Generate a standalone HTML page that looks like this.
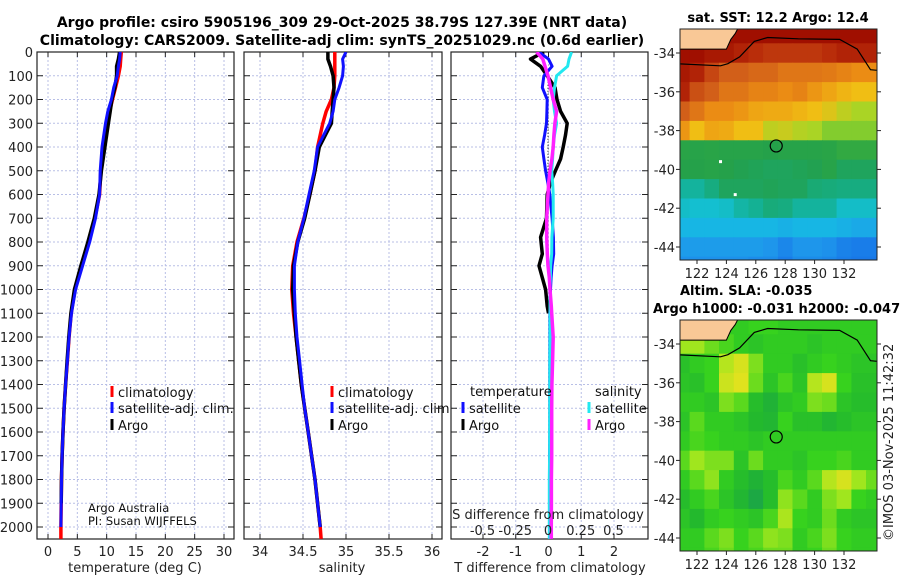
<!DOCTYPE html>
<html><head><meta charset="utf-8">
<style>
html,body{margin:0;padding:0;background:#fff;}
svg{display:block;font-family:"DejaVu Sans","Liberation Sans",sans-serif;}
.tk{font-size:13px;fill:#222;}
.ttl{font-size:14px;font-weight:bold;fill:#000;}
.mttl{font-size:13px;font-weight:bold;fill:#000;}
</style></head>
<body>
<svg id="fig" width="900" height="580" viewBox="0 0 900 580" xmlns="http://www.w3.org/2000/svg">
<text class="ttl" x="342" y="27" text-anchor="middle">Argo profile: csiro 5905196_309 29-Oct-2025 38.79S 127.39E (NRT data)</text>
<text class="ttl" x="342" y="45" text-anchor="middle">Climatology: CARS2009. Satellite-adj clim: synTS_20251029.nc (0.6d earlier)</text>
<g id="g"></g>
</svg>
<script>
// ---- profile data ----
const depthT = [0,30,60,100,150,200,250,300,400,500,600,700,800,900,1000,1100,1200,1300,1400,1500,1600,1700,1800,1900,2000,2050];
const tempArgo = [12.2,12.0,11.7,11.7,11.4,10.9,10.6,10.3,9.7,9.1,8.7,7.9,6.8,5.6,4.5,3.9,3.55,3.25,3.0,2.75,2.55,2.4,2.3,2.25,2.2,2.2];
const tempClim = [12.5,12.4,12.3,12.0,11.5,11.0,10.5,10.0,9.4,9.0,8.8,8.0,6.9,5.7,4.6,3.95,3.6,3.3,3.0,2.75,2.55,2.4,2.3,2.25,2.2,2.2];
const tempSat  = [12.3,12.2,12.0,11.8,11.2,10.8,10.2,9.8,9.2,8.9,8.8,8.1,7.1,5.9,4.7,4.0,3.6,3.3,3.0,2.75,2.55,2.4,2.3,2.25,2.2,2.2];
const salArgo = [34.79,34.79,34.82,34.85,34.86,34.85,34.84,34.83,34.69,34.64,34.58,34.52,34.44,34.39,34.38,34.4,34.42,34.45,34.48,34.52,34.56,34.6,34.64,34.67,34.70,34.71];
const salClim = [34.87,34.87,34.87,34.87,34.86,34.83,34.77,34.73,34.67,34.64,34.58,34.51,34.43,34.38,34.37,34.39,34.42,34.45,34.48,34.52,34.56,34.6,34.64,34.67,34.70,34.71];
const salSat  = [35.0,34.96,34.97,34.96,34.92,34.87,34.85,34.81,34.67,34.63,34.57,34.51,34.44,34.40,34.40,34.41,34.43,34.46,34.49,34.52,34.56,34.6,34.64,34.67,34.70,34.71];
// differences
const depthD = [0,30,60,100,150,200,250,300,350,400,450,500,550,600,700,780,850,900,950,1000,1070,1100,1200,1300,1400,1500,1600,1700,1800,1900,2000,2050];
const dTArgo = [-0.14,-0.55,-0.24,-0.04,0.2,0.26,0.37,0.57,0.52,0.45,0.37,0.21,0.06,-0.04,-0.06,-0.24,-0.19,-0.29,-0.19,-0.09,-0.04,0];
const dTSat  = [-0.29,0.0,0.11,-0.14,-0.19,-0.04,-0.05,-0.06,-0.12,-0.19,-0.14,-0.09,-0.02,0.04,0.11,0.15,0.16,0.11,0.08,0.06,0.05,0.04,0.04,0.04,0.04,0.04,0.04,0.03,0.03,0.03,0.03,0.03];
const dSSat  = [0.18,0.16,0.15,0.066,0.05,0.04,0.05,0.066,0.05,0.04,0.035,0.028,0.035,0.04,0.04,0.03,0.028,0.02,0.018,0.015,0.015,0.015,0.015,0.014,0.014,0.013,0.012,0.012,0.01,0.01,0.01,0.01];
const dSArgo = [-0.087,-0.04,-0.023,0.0,0.02,0.04,0.066,0.053,0.045,0.04,0.03,0.015,0.005,0.0,-0.01,-0.01,-0.005,0.0,0.01,0.015,0.025,0.028,0.04,0.035,0.03,0.028,0.028,0.028,0.026,0.026,0.025,0.025];
const depthTicks = [0,100,200,300,400,500,600,700,800,900,1000,1100,1200,1300,1400,1500,1600,1700,1800,1900,2000];
const tTicks = [0,5,10,15,20,25,30];
const sTicks = [34,34.5,35,35.5,36];
const sTickLabels = ["34","34.5","35","35.5","36"];
const dTTicks = [-2,-1,0,1,2];
const dSTicks = [-0.5,-0.25,0,0.25,0.5];
const dSTickLabels = ["-0.5","-0.25","0","0.25","0.5"];
// ---- map data ----
const mapLats = [-33,-34,-35,-36,-37,-38,-39,-40,-41,-42,-43,-44,-45];
const mapLons = [120,121,122,123,124,125,126,127,128,129,130,131,132,133,134,135];
const sstGrid = [
[19.5,19.5,19.5,19.5,19.5,19.5,19.5,19.5,19.5,19.5,19.5,19.5,19.5,19.5,19.5,19.5],
[19.5,19.5,19.5,19,19,18.5,18,17.8,17.8,17.8,17.8,18,18.5,18.5,18.5,18.5],
[19,19,18.5,17.5,17,17,16.8,16.8,16.5,16.5,16.5,16.4,16.2,16,16,16],
[18.5,18.5,17.3,17,16.5,16.5,16.2,16.2,16,16.2,15.8,15.5,15.2,15,15,15],
[17,17,16.5,16,16,15.8,15.5,15.4,15.4,15.2,15,14.8,14.5,14.3,14.3,14.3],
[15.8,15.8,15,15.5,15.4,15,15,14.5,14.6,14.4,14.3,14,14,14,14,14],
[12.6,12.6,12.5,12.6,12.5,12.5,12.5,12.4,12.5,12.5,12.5,12.6,13,13,13,13],
[12.4,12.4,12.4,12.5,12.4,12.2,12.1,12,12,12.1,12.2,12.5,12,12,12,12],
[11,11,11,11.4,12,12,12,12.1,12,12,11.6,11.5,11.4,11.4,11.4,11.4],
[10.5,10.5,10.4,10.4,10.5,10.9,11.1,11.5,11.4,11,11,11,10.5,10.5,10.5,10.5],
[10,10,10,10,10,10,10,10,9.9,10,10,10,9.9,9.8,9.8,9.8],
[9.6,9.6,9.6,9.6,9.6,9.6,9.6,9.5,9.2,9.5,9.5,9.4,9.1,9,9,9],
[9.4,9.4,9.4,9.4,9.4,9.4,9.3,9.3,9,9.3,9.3,9.2,9,8.9,8.9,8.9]];
const slaGrid = [
[0,0,0,0,0,0,0.02,0.02,0,0,0,0,0,0,0,0],
[0.08,0.08,0.08,0.05,0.03,0,-0.02,0,0,0,-0.02,0,0,0,0,0],
[-0.03,-0.03,0,0.02,0.1,0.13,0.06,0,0,-0.03,0,0.02,0,-0.02,-0.02,-0.02],
[-0.02,-0.02,-0.03,0.02,0.12,0.14,0.05,-0.02,0.03,-0.02,0.1,0.13,0.02,-0.03,-0.03,-0.03],
[0,0,0,-0.02,0.06,0.04,-0.04,-0.07,-0.02,0,0.06,0.05,-0.02,-0.04,-0.04,-0.04],
[-0.02,-0.02,0.04,0,0,-0.02,-0.05,-0.06,0.02,-0.03,-0.03,-0.06,-0.04,-0.02,-0.02,-0.02],
[0,0,0.03,0.02,0,0,-0.02,0,0,0,0,0,0,0,0,0],
[0.04,0.04,0.08,0.06,0.06,-0.02,0.05,0,0,-0.02,0.02,0.02,0.03,0,0,0],
[0,0,0.04,0.07,0,-0.04,-0.07,-0.04,0.03,0,0.04,0.1,0.13,0.08,0.05,0.05],
[-0.04,-0.04,0,0.03,-0.02,-0.06,-0.1,-0.04,0.07,0.04,0,0.06,0.08,0.02,0,0],
[-0.02,-0.02,-0.05,0,0.02,0,-0.02,0.03,0.09,0.02,0,0.05,0,-0.02,-0.02,-0.02],
[0,0,0,0.04,0.06,0.02,0.04,0.07,0.06,0,0.03,0.06,0.02,0,0,0],
[0,0,0,0.03,0.05,0.02,0.03,0.05,0.05,0,0.02,0.05,0.02,0,0,0]];
const latTicks = [-34,-36,-38,-40,-42,-44];
const lonTicks = [122,124,126,128,130,132];
const landLon = [120.0,120.0,124.0,124.3,124.6,124.8];
const landLat = [-32.7,-33.8,-33.8,-33.3,-33.0,-32.7];
const contLon = [120.0,123.6,124.1,124.9,125.9,126.8,128.9,131.7,132.9,133.8,135.0];
const contLat = [-34.53,-34.66,-34.55,-34.2,-33.4,-33.2,-33.27,-33.3,-33.8,-34.86,-34.95];
const argoLon = 127.39, argoLat = -38.79;

const NS="http://www.w3.org/2000/svg";
const G=document.getElementById('g');
function mk(tag,attrs,parent,txt){const e=document.createElementNS(NS,tag);for(const k in attrs)e.setAttribute(k,attrs[k]);if(txt!==undefined)e.textContent=txt;(parent||G).appendChild(e);return e;}

const PT=52, PB=539;
const yD=d=>PT+d*0.2375;
function lin(d0,d1,r0,r1){return v=>r0+(v-d0)/(d1-d0)*(r1-r0);}
const panels=[
 {x0:37,x1:234,sx:lin(0,30,48,224),name:'temperature'},
 {x0:244,x1:442,sx:lin(34,36,260,432),name:'salinity'},
 {x0:451,x1:648,sx:lin(-2,2,483,614),name:'difference'}];

function panelFrame(p,ticks){
  const grp=mk('g',{});
  
  
  mk('rect',{x:p.x0,y:PT,width:p.x1-p.x0,height:PB-PT,fill:'#fff'},grp);
  ticks.forEach(t=>{const x=p.sx(t);
    const l=mk('line',{x1:x,x2:x,y1:PT,y2:PB,stroke:'#b8bfe6','stroke-width':1,'stroke-dasharray':'2,2'},grp);
    
    mk('line',{x1:x,x2:x,y1:PB,y2:PB-5,stroke:'#222'},grp);mk('line',{x1:x,x2:x,y1:PT,y2:PT+5,stroke:'#222'},grp);});
  depthTicks.forEach(d=>{const y=yD(d);
    const l=mk('line',{x1:p.x0,x2:p.x1,y1:y,y2:y,stroke:'#b8bfe6','stroke-width':1,'stroke-dasharray':'2,2'},grp);
    
    mk('line',{x1:p.x0,x2:p.x0+6,y1:y,y2:y,stroke:'#222'},grp);mk('line',{x1:p.x1,x2:p.x1-6,y1:y,y2:y,stroke:'#222'},grp);});
  mk('rect',{x:p.x0,y:PT,width:p.x1-p.x0,height:PB-PT,fill:'none',stroke:'#222','stroke-width':1.2},grp);
  const cp=mk('clipPath',{id:'clip-'+p.name},grp);
  mk('rect',{x:p.x0,y:PT,width:p.x1-p.x0,height:PB-PT},cp);
  return grp;
}
function series(p,xs,ds,color,w,name,map){
  let pts=[];for(let i=0;i<xs.length;i++){pts.push((map?map(xs[i]):p.sx(xs[i])).toFixed(1)+','+yD(ds[i]).toFixed(1));}
  const e=mk('polyline',{points:pts.join(' '),fill:'none',stroke:color,'stroke-width':w,'stroke-linejoin':'round','clip-path':'url(#clip-'+p.name+')'});
  
  
  return e;
}
function legend(x,y,color,label,name){
  const r=mk('rect',{x:x-1.5,y:y-6,width:3,height:11,fill:color});
  
  const t=mk('text',{x:x+6,y:y+5,'font-size':13,fill:'#111'},G,label);
  
}
depthTicks.forEach(d=>{const t=mk('text',{class:'tk',x:33,y:yD(d)+5,'text-anchor':'end'},G,String(d));
  });

// Panel 1
const p1=panels[0];panelFrame(p1,tTicks);
tTicks.forEach(t=>{const e=mk('text',{class:'tk',x:p1.sx(t),y:556,'text-anchor':'middle'},G,String(t));});
{const e=mk('text',{class:'tk',x:135,y:572,'text-anchor':'middle'},G,'temperature (deg C)');}
series(p1,tempClim,depthT,'#ff0000',3.5,'temp-climatology-line');
series(p1,tempArgo,depthT.slice(0,24),'#000',3.5,'temp-argo-line');
series(p1,tempSat.slice(0,25),depthT.slice(0,25),'#1010ff',3,'temp-satellite-line');
legend(112,392,'#ff0000','climatology','legend-climatology');
legend(112,408,'#1010ff','satellite-adj. clim.','legend-satellite');
legend(112,425,'#000','Argo','legend-argo');
{const e=mk('text',{x:88,y:512,'font-size':11.5,fill:'#111'},G,'Argo Australia');
 const f=mk('text',{x:88,y:525,'font-size':11.5,fill:'#111'},G,'PI: Susan WIJFFELS');}

// Panel 2
const p2=panels[1];panelFrame(p2,sTicks);
sTicks.forEach((t,i)=>{const e=mk('text',{class:'tk',x:p2.sx(t),y:556,'text-anchor':'middle'},G,sTickLabels[i]);});
{const e=mk('text',{class:'tk',x:342,y:572,'text-anchor':'middle'},G,'salinity');}
series(p2,salClim,depthT,'#ff0000',3.5,'sal-climatology-line');
series(p2,salArgo.slice(0,25),depthT.slice(0,25),'#000',3.5,'sal-argo-line');
series(p2,salSat.slice(0,25),depthT.slice(0,25),'#1010ff',3,'sal-satellite-line');
legend(332,392,'#ff0000','climatology','legend-climatology-sal');
legend(332,408,'#1010ff','satellite-adj. clim.','legend-satellite-sal');
legend(332,425,'#000','Argo','legend-argo-sal');

// Panel 3
const p3=panels[2];panelFrame(p3,dTTicks);
const sxS=v=>548+v*131;
dTTicks.forEach(t=>{const e=mk('text',{class:'tk',x:p3.sx(t),y:556,'text-anchor':'middle'},G,String(t));});
{const e=mk('text',{class:'tk',x:550,y:572,'text-anchor':'middle'},G,'T difference from climatology');}
{const z=mk('line',{x1:548,x2:548,y1:yD(100),y2:yD(720),stroke:'#000','stroke-width':1,'stroke-dasharray':'1,2'});}
series(p3,dTArgo,depthD.slice(0,dTArgo.length),'#000',3.5,'tdiff-argo-line');
series(p3,dTSat,depthD,'#1010ff',3,'tdiff-satellite-line');
series(p3,dSSat,depthD,'#22e8f0',3,'sdiff-satellite-line',sxS);
series(p3,dSArgo,depthD,'#ff20ff',3.5,'sdiff-argo-line',sxS);
{const e=mk('text',{x:470,y:396,'font-size':13,fill:'#111'},G,'temperature');
 const f=mk('text',{x:595,y:396,'font-size':13,fill:'#111'},G,'salinity');}
legend(463,408,'#1010ff','satellite','legend-tdiff-satellite');
legend(463,425,'#000','Argo','legend-tdiff-argo');
legend(589,408,'#22e8f0','satellite','legend-sdiff-satellite');
legend(589,425,'#ff20ff','Argo','legend-sdiff-argo');
{const e=mk('text',{class:'tk',x:548,y:519,'text-anchor':'middle'},G,'S difference from climatology');}
dSTicks.forEach((t,i)=>{const e=mk('text',{class:'tk',x:sxS(t),y:535,'text-anchor':'middle'},G,dSTickLabels[i]);});

// ---- maps ----
function interp(stops,v){
  if(v<=stops[0][0])return 'rgb('+stops[0][1].join(',')+')';
  for(let i=1;i<stops.length;i++){if(v<=stops[i][0]){const a=stops[i-1],b=stops[i],f=(v-a[0])/(b[0]-a[0]);
    return 'rgb('+[0,1,2].map(k=>Math.round(a[1][k]+(b[1][k]-a[1][k])*f)).join(',')+')';}}
  return 'rgb('+stops[stops.length-1][1].join(',')+')';
}
const sstStops=[[8.5,[20,100,230]],[9.5,[30,150,235]],[10.2,[20,195,225]],[11.2,[20,175,140]],[12.3,[35,160,75]],[13.5,[60,175,60]],[14.2,[160,215,40]],[15,[240,190,20]],[16,[235,140,20]],[17,[210,95,25]],[18,[185,45,10]],[19.5,[160,15,0]]];
const slaStops=[[-0.15,[20,150,90]],[-0.05,[35,185,45]],[0.02,[55,210,30]],[0.08,[160,230,30]],[0.15,[235,225,30]]];
function drawMap(cfg,grid,stops,name){
  const {x0,x1,y0,y1}=cfg;
  const sx=lin(122,132,697,844), sy=lin(-34,-44,y0+24,y0+218);
  const grp=mk('g',{});
  const cp=mk('clipPath',{id:'clip-'+name},grp);mk('rect',{x:x0,y:y0,width:x1-x0,height:y1-y0},cp);
  const cg=mk('g',{'clip-path':'url(#clip-'+name+')'},grp);
  for(let r=0;r<mapLats.length;r++)for(let c=0;c<mapLons.length;c++){
    const xa=sx(mapLons[c]-0.5), xb=sx(mapLons[c]+0.5), ya=sy(mapLats[r]+0.5), yb=sy(mapLats[r]-0.5);
    const rc=mk('rect',{x:xa.toFixed(1),y:ya.toFixed(1),width:(xb-xa+0.6).toFixed(1),height:(yb-ya+0.6).toFixed(1),fill:interp(stops,grid[r][c])},cg);
    
    
  }
  const lp=landLon.map((l,i)=>sx(l).toFixed(1)+','+sy(landLat[i]).toFixed(1)).join(' ');
  const land=mk('polygon',{points:lp,fill:'#f9c896',stroke:'#000','stroke-width':1},cg);
  
  const cpts=contLon.map((l,i)=>sx(l).toFixed(1)+','+sy(contLat[i]).toFixed(1)).join(' ');
  const ct=mk('polyline',{points:cpts,fill:'none',stroke:'#000','stroke-width':1.2},cg);
  
  const ci=mk('circle',{cx:sx(argoLon),cy:sy(argoLat),r:6,fill:'none',stroke:'#000','stroke-width':1.2},cg);
  
  mk('rect',{x:x0,y:y0,width:x1-x0,height:y1-y0,fill:'none',stroke:'#222','stroke-width':1},grp);
  latTicks.forEach(t=>{const y=sy(t);mk('line',{x1:x0-4,x2:x0,y1:y,y2:y,stroke:'#222'},grp);mk('line',{x1:x1,x2:x1+4,y1:y,y2:y,stroke:'#222'},grp);
    const e=mk('text',{class:'tk',x:x0-5,y:y+5,'text-anchor':'end'},grp,String(t));});
  lonTicks.forEach(t=>{const x=sx(t);mk('line',{x1:x,x2:x,y1:y1,y2:y1+4,stroke:'#222'},grp);
    const e=mk('text',{class:'tk',x:x,y:y1+18,'text-anchor':'middle'},grp,String(t));});
  return {sx,sy};
}
const m1=drawMap({x0:680,x1:877,y0:29,y1:260},sstGrid,sstStops,'sst-map');
[[123.6,-39.6],[124.6,-41.3]].forEach(p=>{const r=mk('rect',{x:m1.sx(p[0])-1.5,y:m1.sy(p[1])-1.5,width:3,height:3,fill:'#fff'});});
drawMap({x0:680,x1:877,y0:320,y1:551},slaGrid,slaStops,'sla-map');
{const a=mk('text',{class:'mttl',x:778,y:22,'text-anchor':'middle'},G,'sat. SST: 12.2 Argo: 12.4');
 const b=mk('text',{class:'mttl',x:680,y:295},G,'Altim. SLA: -0.035');
 const c=mk('text',{class:'mttl',x:653,y:313},G,'Argo h1000: -0.031 h2000: -0.047');
 const d=mk('text',{class:'tk',x:0,y:0,transform:'translate(893,541) rotate(-90)'},G,'©IMOS 03-Nov-2025 11:42:32');}
</script>
</body></html>
